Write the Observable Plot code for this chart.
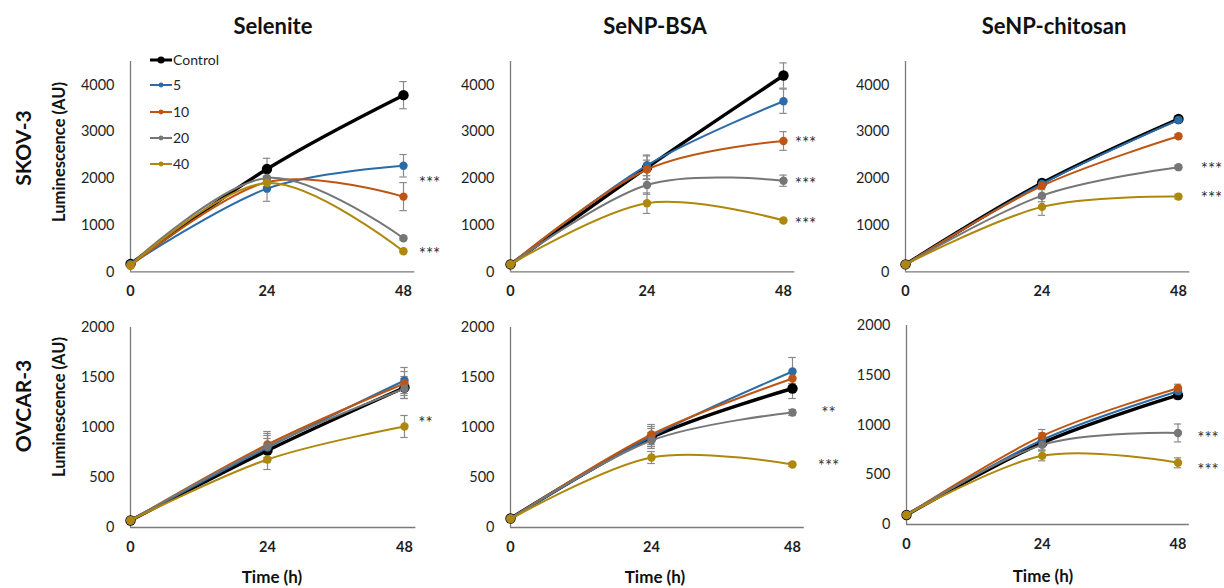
<!DOCTYPE html>
<html>
<head>
<meta charset="utf-8">
<script src="https://cdn.jsdelivr.net/npm/d3@7"></script>
<script src="https://cdn.jsdelivr.net/npm/@observablehq/plot@0.6"></script>
<style>
  body { margin: 0; background: #fff; font-family: Lato, "Open Sans", sans-serif; }
  #chart { position: relative; width: 1224px; height: 588px; overflow: hidden; background: #fff; }
  .abs { position: absolute; white-space: nowrap; line-height: 1; color: #111; }
  .title { font-weight: bold; font-size: 22px; transform: translate(-50%, -50%); }
  .row { font-weight: bold; font-size: 21px; transform: translate(-50%, -50%) rotate(-90deg); }
  .ylab { font-weight: bold; font-size: 16.5px; transform: translate(-50%, -50%) rotate(-90deg); }
  .xlab { font-weight: bold; font-size: 17px; transform: translate(-50%, -50%); }
  svg g[aria-label^="x-axis"] text { font-weight: bold; }
</style>
</head>
<body>
<div id="chart"></div>
<script>
// ---------- data ----------
const times = [0, 24, 48];
const series = ["Control", "5", "10", "20", "40"];
const seriesColors = ["#000000", "#2b6ca8", "#bf5512", "#767676", "#ad880c"];
const treatments = ["Selenite", "SeNP-BSA", "SeNP-chitosan"];
const cellLines = ["SKOV-3", "OVCAR-3"];
const yTicksSkov = [0, 1000, 2000, 3000, 4000];
const yTicksOvcar = [0, 500, 1000, 1500, 2000];
const yLabel = "Luminescence (AU)";
const xLabel = "Time (h)";

// means: one row per series (Control, 5, 10, 20, 40), one value per time
const skovSeleniteMean = [[170, 2200, 3780], [160, 1780, 2270], [130, 1920, 1610], [160, 2010, 720], [140, 1900, 440]];
const skovSeleniteErr  = [[20, 230, 290], [0, 270, 240], [0, 120, 300], [0, 100, 40], [0, 80, 30]];
const skovSeleniteStars = [[1990, "***"], [480, "***"]];

const skovBsaMean = [[160, 2230, 4200], [160, 2280, 3650], [160, 2190, 2800], [160, 1860, 1950], [160, 1470, 1100]];
const skovBsaErr  = [[0, 250, 270], [0, 220, 260], [0, 200, 200], [0, 200, 120], [0, 220, 40]];
const skovBsaStars = [[2850, "***"], [1980, "***"], [1110, "***"]];

const skovChitMean = [[160, 1900, 3270], [160, 1880, 3250], [160, 1840, 2900], [160, 1630, 2240], [160, 1390, 1610]];
const skovChitErr  = [[0, 80, 60], [0, 60, 50], [0, 60, 40], [0, 130, 40], [0, 180, 50]];
const skovChitStars = [[2290, "***"], [1675, "***"]];

const ovcarSeleniteMean = [[70, 770, 1400], [70, 800, 1470], [70, 830, 1440], [70, 810, 1390], [70, 680, 1010]];
const ovcarSeleniteErr  = [[0, 120, 110], [0, 120, 130], [0, 130, 120], [0, 130, 100], [0, 100, 110]];
const ovcarSeleniteStars = [[1090, "**"]];

const ovcarBsaMean = [[90, 900, 1390], [90, 910, 1560], [90, 930, 1490], [90, 870, 1150], [85, 700, 630]];
const ovcarBsaErr  = [[0, 90, 100], [0, 100, 140], [0, 100, 50], [0, 80, 30], [0, 60, 20]];
const ovcarBsaStars = [[1190, "**"], [660, "***"]];

const ovcarChitMean = [[95, 820, 1300], [95, 850, 1340], [95, 890, 1370], [95, 800, 920], [95, 690, 620]];
const ovcarChitErr  = [[0, 70, 40], [0, 70, 40], [0, 65, 40], [0, 60, 90], [0, 50, 50]];
const ovcarChitStars = [[918, "***"], [593, "***"]];

// ---------- layout (page pixels) ----------
const panels = [
  { mean: skovSeleniteMean, err: skovSeleniteErr, stars: skovSeleniteStars, axisX: 130, x48: 403, y0: 271, yTop: 60.6, yMax: 4500, ticks: yTicksSkov, starDx: 26 },
  { mean: skovBsaMean, err: skovBsaErr, stars: skovBsaStars, axisX: 510, x48: 783, y0: 271, yTop: 60.6, yMax: 4500, ticks: yTicksSkov, starDx: 22 },
  { mean: skovChitMean, err: skovChitErr, stars: skovChitStars, axisX: 905, x48: 1178, y0: 271, yTop: 60.6, yMax: 4500, ticks: yTicksSkov, starDx: 33 },
  { mean: ovcarSeleniteMean, err: ovcarSeleniteErr, stars: ovcarSeleniteStars, axisX: 130, x48: 404, y0: 527, yTop: 327, yMax: 2000, ticks: yTicksOvcar, starDx: 21 },
  { mean: ovcarBsaMean, err: ovcarBsaErr, stars: ovcarBsaStars, axisX: 510, x48: 792, y0: 527, yTop: 327, yMax: 2000, ticks: yTicksOvcar, starDx: 36 },
  { mean: ovcarChitMean, err: ovcarChitErr, stars: ovcarChitStars, axisX: 905.5, x48: 1177, y0: 523.5, yTop: 324.5, yMax: 2000, ticks: yTicksOvcar, starDx: 30 }
];

const chart = document.getElementById("chart");

function addText(cls, text, x, y) {
  const d = document.createElement("div");
  d.className = "abs " + cls;
  d.textContent = text;
  d.style.left = x + "px";
  d.style.top = y + "px";
  chart.appendChild(d);
}

const xEnd = 50;
const capHalf = 0.65;
const lastT = times[times.length - 1];

panels.forEach((p) => {
  const rows = [];
  series.forEach((s, si) => {
    times.forEach((t, ti) => {
      rows.push({ series: s, si, t, v: p.mean[si][ti], e: p.err[si][ti] });
    });
  });
  const errRows = rows.filter(r => r.e > 0);
  const plotW = (p.x48 - p.axisX) * xEnd / lastT;
  const plotH = p.y0 - p.yTop;
  const mL = 75, mR = 60, mT = 20, mB = 45;

  const marks = [
    Plot.ruleY([0], { stroke: "#7a7a7a", strokeWidth: 1.3 }),
    Plot.ruleX([0], { stroke: "#7a7a7a", strokeWidth: 1.3 }),
    Plot.ruleX(errRows, { x: "t", y1: r => r.v - r.e, y2: r => r.v + r.e, stroke: "#8a8a8a", strokeWidth: 1.2 }),
    Plot.ruleY(errRows, { y: r => r.v + r.e, x1: r => r.t - capHalf, x2: r => r.t + capHalf, stroke: "#8a8a8a", strokeWidth: 1.2 }),
    Plot.ruleY(errRows, { y: r => r.v - r.e, x1: r => r.t - capHalf, x2: r => r.t + capHalf, stroke: "#8a8a8a", strokeWidth: 1.2 })
  ];
  series.forEach((s, si) => {
    const data = rows.filter(r => r.si === si);
    const isCtrl = si === 0;
    marks.push(Plot.line(data, { x: "t", y: "v", stroke: seriesColors[si], strokeWidth: isCtrl ? 3.4 : 2, curve: "cardinal" }));
    marks.push(Plot.dot(data, { x: "t", y: "v", fill: seriesColors[si], r: isCtrl ? 5.2 : 4.2 }));
  });
  marks.push(Plot.text(p.stars, { x: () => lastT, y: d => d[0], text: d => d[1], dx: p.starDx, dy: 5, fontSize: 17, fill: "#333", letterSpacing: "0.5px" }));

  const svg = Plot.plot({
    width: mL + plotW + mR,
    height: mT + plotH + mB,
    marginLeft: mL, marginRight: mR, marginTop: mT, marginBottom: mB,
    style: { fontFamily: "Lato, 'Open Sans', sans-serif", fontSize: "14.5px", color: "#1f1f1f", background: "transparent", overflow: "visible" },
    x: { domain: [0, xEnd], ticks: times, tickSize: 0, tickPadding: 14, label: null, tickFormat: d => String(d) },
    y: { domain: [0, p.yMax], ticks: p.ticks, tickSize: 0, tickPadding: 16, label: null, tickFormat: d => String(d) },
    marks
  });
  svg.style.position = "absolute";
  svg.style.left = (p.axisX - mL) + "px";
  svg.style.top = (p.yTop - mT) + "px";
  chart.appendChild(svg);
});

// titles, row labels, axis labels
addText("title", treatments[0], 273, 26);
addText("title", treatments[1], 655, 26);
addText("title", treatments[2], 1054, 26);
addText("row", cellLines[0], 22, 148);
addText("row", cellLines[1], 22, 406);
addText("ylab", yLabel, 59, 152);
addText("ylab", yLabel, 59, 407);
addText("xlab", xLabel, 272, 576);
addText("xlab", xLabel, 655, 576);
addText("xlab", xLabel, 1043, 575);

// legend (inside the first panel)
const legendY = [60, 85, 112, 138, 164];
const ns = "http://www.w3.org/2000/svg";
const lg = document.createElementNS(ns, "svg");
lg.setAttribute("width", 110);
lg.setAttribute("height", 130);
lg.style.position = "absolute";
lg.style.left = "140px";
lg.style.top = "48px";
series.forEach((s, i) => {
  const y = legendY[i] - 48;
  const line = document.createElementNS(ns, "line");
  line.setAttribute("x1", 10); line.setAttribute("x2", 32);
  line.setAttribute("y1", y); line.setAttribute("y2", y);
  line.setAttribute("stroke", seriesColors[i]);
  line.setAttribute("stroke-width", i === 0 ? 3 : 2);
  lg.appendChild(line);
  const c = document.createElementNS(ns, "circle");
  c.setAttribute("cx", 21); c.setAttribute("cy", y);
  c.setAttribute("r", i === 0 ? 3.6 : 2.4);
  c.setAttribute("fill", seriesColors[i]);
  lg.appendChild(c);
  const t = document.createElementNS(ns, "text");
  t.setAttribute("x", 33); t.setAttribute("y", y);
  t.setAttribute("dy", "0.35em");
  t.setAttribute("font-family", "Lato, 'Open Sans', sans-serif");
  t.setAttribute("font-size", "14");
  t.setAttribute("fill", "#262626");
  t.textContent = s;
  lg.appendChild(t);
});
chart.appendChild(lg);
</script>
</body>
</html>
